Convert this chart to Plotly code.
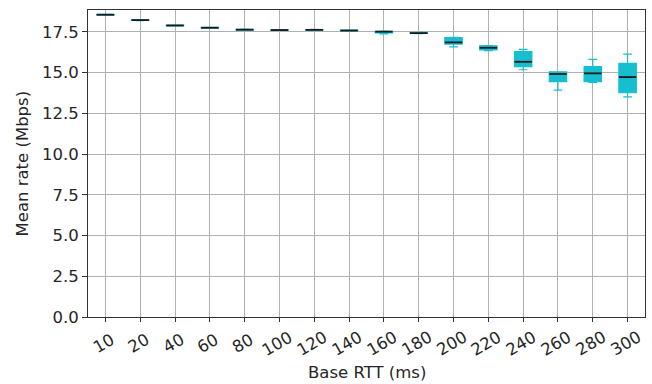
import plotly.graph_objects as go

categories = ["10", "20", "40", "60", "80", "100", "120", "140", "160", "180",
              "200", "220", "240", "260", "280", "300"]
lower_whisker = [18.53, 18.20, 17.87, 17.73, 17.61, 17.59, 17.60, 17.56, 17.38, 17.40,
                 16.59, 16.36, 15.18, 13.93, 14.41, 13.52]
q1 = [18.54, 18.21, 17.88, 17.74, 17.62, 17.60, 17.61, 17.57, 17.45, 17.41,
      16.76, 16.40, 15.37, 14.45, 14.45, 13.77]
median = [18.56, 18.23, 17.90, 17.76, 17.64, 17.62, 17.63, 17.59, 17.52, 17.43,
          16.86, 16.53, 15.67, 14.92, 14.96, 14.73]
q3 = [18.58, 18.25, 17.92, 17.78, 17.66, 17.64, 17.65, 17.61, 17.54, 17.46,
      17.15, 16.65, 16.29, 15.06, 15.37, 15.57]
upper_whisker = [18.59, 18.26, 17.93, 17.79, 17.67, 17.65, 17.66, 17.62, 17.55, 17.48,
                 17.17, 16.67, 16.43, 15.06, 15.82, 16.14]
y_ticks = [0.0, 2.5, 5.0, 7.5, 10.0, 12.5, 15.0, 17.5]

xs = list(range(len(categories)))
BOX_W = 0.5
CYAN = "#17becf"
TXT = "#262626"
FS = 16.5

fig = go.Figure()
fig.add_trace(go.Box(
    x=xs, q1=q1, median=median, q3=q3,
    lowerfence=lower_whisker, upperfence=upper_whisker,
    width=BOX_W, whiskerwidth=0.5,
    fillcolor=CYAN, line=dict(color=CYAN, width=1.2),
    boxpoints=False, hoverinfo="skip", showlegend=False,
))

mx, my = [], []
for i, m in zip(xs, median):
    mx += [i - BOX_W / 2, i + BOX_W / 2, None]
    my += [m, m, None]
fig.add_trace(go.Scatter(x=mx, y=my, mode="lines",
                         line=dict(color="#1a1a1a", width=1.8),
                         hoverinfo="skip", showlegend=False))

# rotated, centred x tick labels
for i, lab in zip(xs, categories):
    fig.add_annotation(x=i, y=0, xref="x", yref="paper", text=lab,
                       showarrow=False, textangle=-30,
                       xanchor="center", yanchor="middle",
                       xshift=-2, yshift=-26,
                       font=dict(family="DejaVu Sans", size=FS, color=TXT))

fig.add_annotation(x=0.5, y=0, xref="paper", yref="paper", text="Base RTT (ms)",
                   showarrow=False, xanchor="center", yanchor="middle", yshift=-55,
                   font=dict(family="DejaVu Sans", size=FS, color=TXT))
fig.add_annotation(x=0, y=0.5, xref="paper", yref="paper", text="Mean rate (Mbps)",
                   showarrow=False, textangle=-90, xanchor="center", yanchor="middle",
                   xshift=-66,
                   font=dict(family="DejaVu Sans", size=FS, color=TXT))

fig.update_layout(
    width=652, height=384,
    margin=dict(l=88, r=7, t=10, b=67),
    plot_bgcolor="white", paper_bgcolor="white",
    font=dict(family="DejaVu Sans", size=FS, color=TXT),
    xaxis=dict(
        range=[-0.5, 15.5], tickmode="array", tickvals=xs, showticklabels=False,
        showgrid=True, gridcolor="#b0b0b0", gridwidth=1,
        showline=True, mirror=True, linecolor="#333", linewidth=1,
        ticks="outside", ticklen=4, tickcolor="#333", zeroline=False,
    ),
    yaxis=dict(
        range=[0, 18.85], tickmode="array", tickvals=y_ticks,
        ticktext=[f"{v:.1f}" for v in y_ticks],
        showgrid=True, gridcolor="#b0b0b0", gridwidth=1,
        showline=True, mirror=True, linecolor="#333", linewidth=1,
        ticks="outside", ticklen=5, tickcolor="#333", zeroline=False,
    ),
)
fig.write_html("out.html")
